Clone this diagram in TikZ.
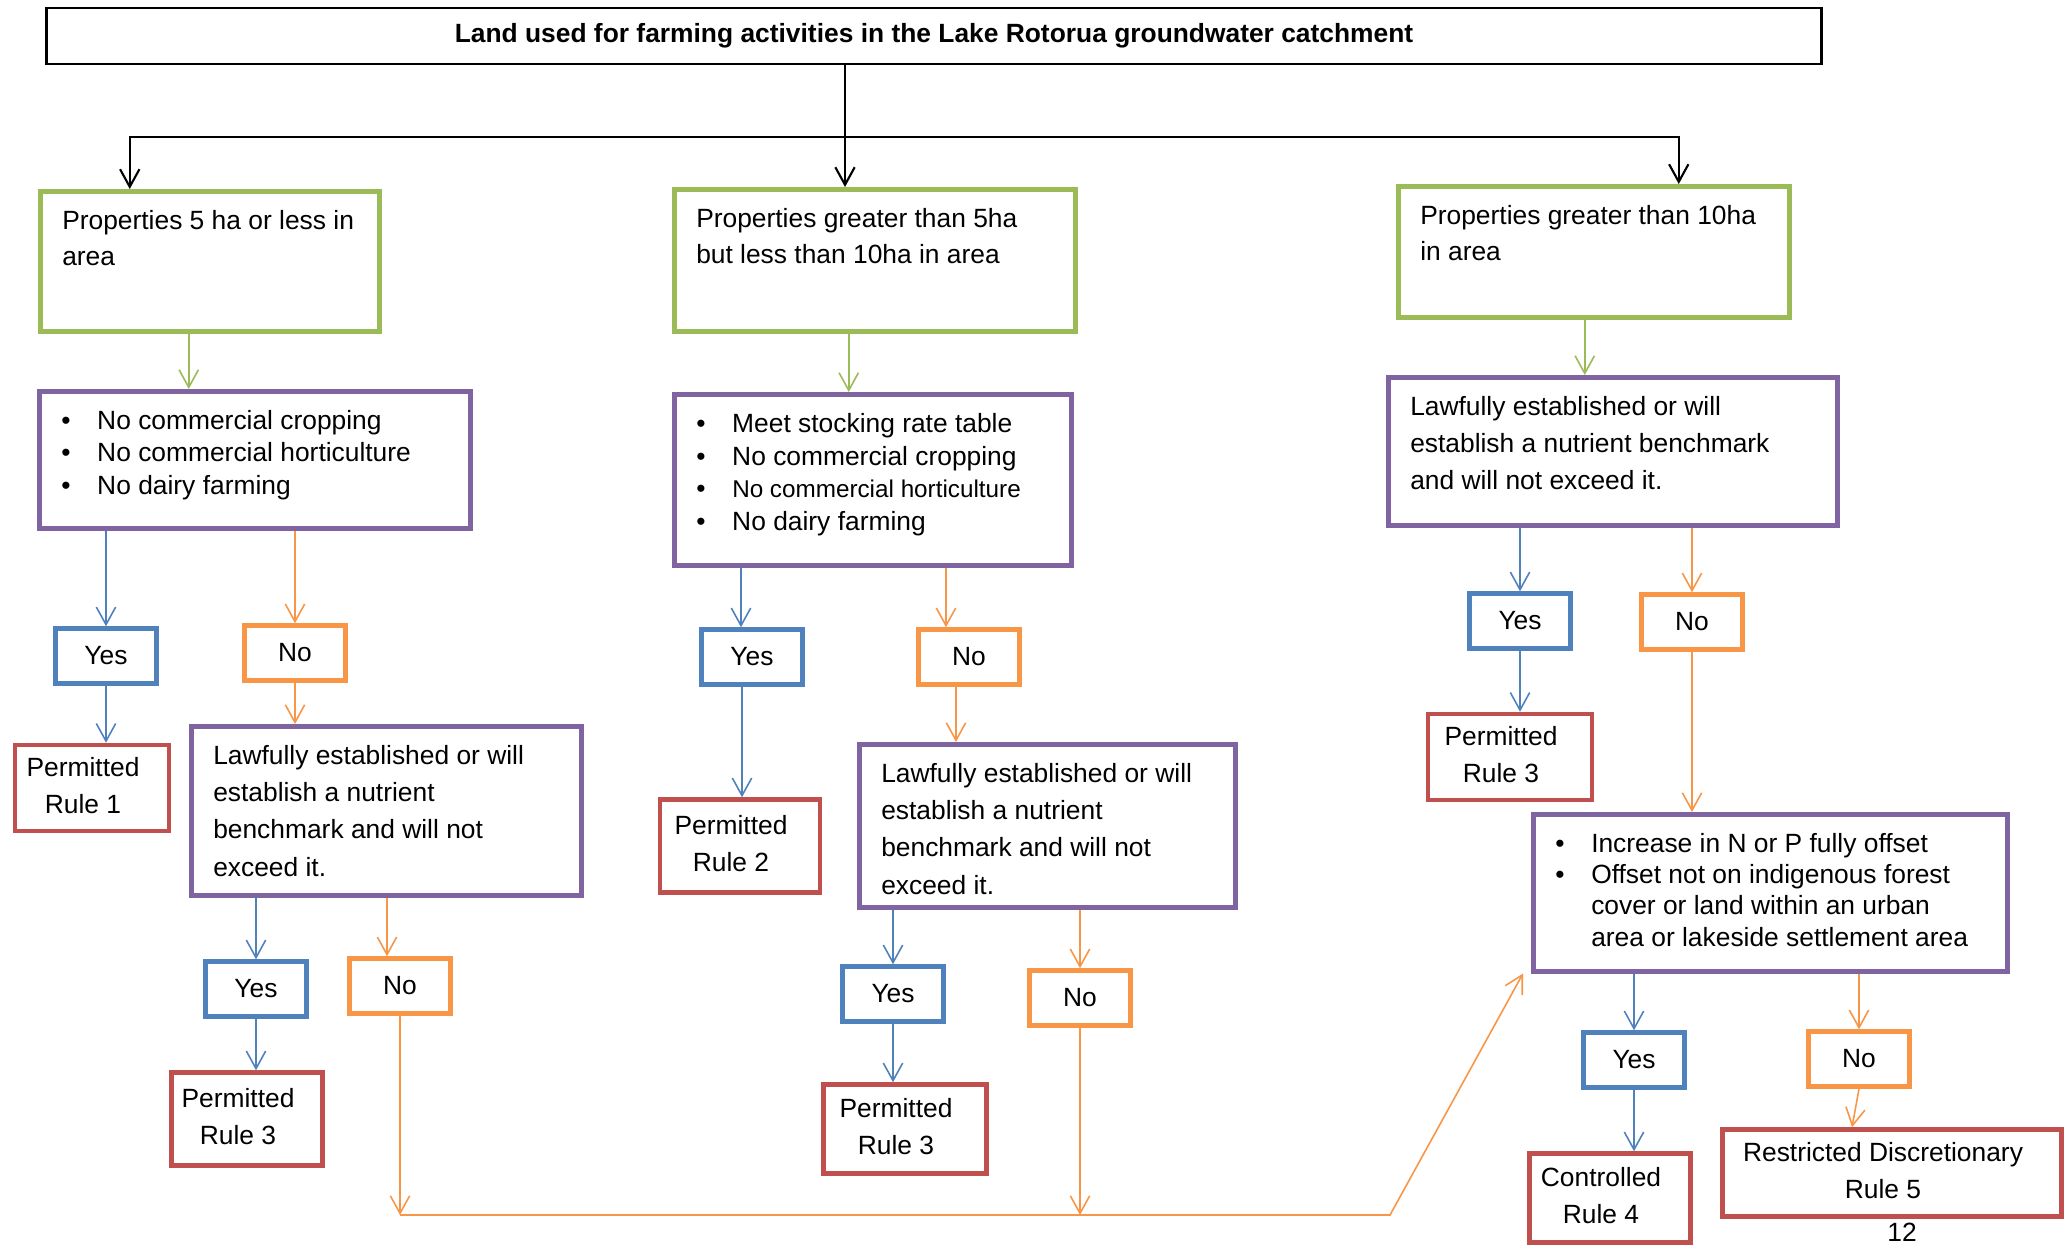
\documentclass[tikz,border=0pt]{standalone}
\usepackage{fontspec}
\setmainfont{Liberation Sans}
\usetikzlibrary{arrows.meta}

\definecolor{boxgreen}{HTML}{9BBB59}
\definecolor{boxpurple}{HTML}{8064A2}
\definecolor{boxblue}{HTML}{4F81BD}
\definecolor{boxorange}{HTML}{F79646}
\definecolor{boxred}{HTML}{C0504D}

% one pixel of the original chart
\newlength\px
\setlength\px{0.01cm}
\newcommand\inbox[3]{\parbox[t][#2\px][t]{#1\px}{\vspace*{19\px}\leftskip=22\px\rightskip=0pt plus 1fil\relax#3}}
\newcommand\bitem{\makebox[36\px][l]{\textbullet}}
\newcommand\rulelines[2]{\begin{tabular}{@{}c@{}}#1\\#2\end{tabular}\hspace*{18\px}}

\begin{document}
\begin{tikzpicture}[
    x=0.01cm, y=-0.01cm,
    every node/.style={font=\fontsize{7.5}{10.5}\selectfont},
    tbox/.style={draw, line width=4.5\px, anchor=north west, inner sep=0pt, xshift=-3\px, yshift=3\px, font=\fontsize{7.5}{#1}\selectfont},
    areabox/.style={tbox=10.24pt, draw=boxgreen},
    condbox/.style={tbox=#1, draw=boxpurple},
    titlebox/.style={draw, line width=2.5\px, minimum width=1775\px, minimum height=56\px, inner sep=0pt, font=\fontsize{7.5}{10.5}\selectfont\bfseries},
    answer/.style={draw=#1, line width=4.5\px, minimum width=101\px, minimum height=55\px, inner sep=0pt},
    yesbox/.style={answer=boxblue},
    nobox/.style={answer=boxorange},
    rulebox/.style 2 args={draw=boxred, line width=4.5\px, inner sep=0pt, minimum width=#1\px, minimum height=#2\px},
    conn/.style={line width=0.45pt, -{Straight Barb[length=5pt,width=5.5pt]}},
    karrow/.style={conn, line width=0.6pt},
    garrow/.style={conn, boxgreen},
    barrow/.style={conn, boxblue},
    oarrow/.style={conn, boxorange}
  ]
  \useasboundingbox (0,0) rectangle (2067,1248);

  \node[titlebox] (title) at (934,36) {Land used for farming activities in the Lake Rotorua groundwater catchment};

  % property sizes
  \node[areabox] (g1) at (41,192) {\inbox{339}{140}{Properties 5 ha or less in\\area}};
  \node[areabox] (g2) at (675,190) {\inbox{401}{142}{Properties greater than 5ha\\but less than 10ha in area}};
  \node[areabox] (g3) at (1399,187) {\inbox{391}{131}{Properties greater than 10ha\\in area}};

  % conditions
  \node[condbox=9.25pt] (p1) at (40,392) {\inbox{431}{137}{\bitem No commercial cropping\\\bitem No commercial horticulture\\\bitem No dairy farming}};
  \node[condbox=9.3pt] (p2) at (675,395) {\inbox{397}{171}{\bitem Meet stocking rate table\\\bitem No commercial cropping\\\bitem{\fontsize{6.9}{9.3}\selectfont No commercial horticulture}\\\bitem No dairy farming}};
  \node[condbox=10.6pt] (p3) at (1389,378) {\inbox{449}{148}{Lawfully established or will\\establish a nutrient benchmark\\and will not exceed it.}};
  \node[condbox=10.6pt] (law1) at (192,727) {\inbox{390}{169}{Lawfully established or will\\establish a nutrient\\benchmark and will not\\exceed it.}};
  \node[condbox=10.6pt] (law2) at (860,745) {\inbox{376}{163}{Lawfully established or will\\establish a nutrient\\benchmark and will not\\exceed it.}};
  \node[condbox=8.9pt] (off) at (1534,815) {\inbox{474}{157}{\bitem Increase in N or P fully offset\\\bitem Offset not on indigenous forest\\\hspace*{36\px}cover or land within an urban\\\hspace*{36\px}area or lakeside settlement area}};

  % answers and rules
  \node[yesbox] (yes1) at (106,656) {Yes};
  \node[nobox] (no1) at (295,653) {No};
  \node[rulebox={154}{86}] (perm1) at (92,788) {\rulelines{Permitted}{Rule 1}};
  \node[yesbox] (yes2) at (256,989) {Yes};
  \node[nobox] (no2) at (400,986) {No};
  \node[rulebox={151}{93}] (perm3a) at (247,1119) {\rulelines{Permitted}{Rule 3}};
  \node[yesbox] (yes3) at (752,657) {Yes};
  \node[nobox] (no3) at (969,657) {No};
  \node[rulebox={160}{93}] (perm2) at (740,846) {\rulelines{Permitted}{Rule 2}};
  \node[yesbox] (yes4) at (893,994) {Yes};
  \node[nobox] (no4) at (1080,998) {No};
  \node[rulebox={163}{89}] (perm3b) at (905,1129) {\rulelines{Permitted}{Rule 3}};
  \node[yesbox] (yes5) at (1520,621) {Yes};
  \node[nobox] (no5) at (1692,622) {No};
  \node[rulebox={164}{86}] (perm3c) at (1510,757) {\rulelines{Permitted}{Rule 3}};
  \node[yesbox] (yes6) at (1634,1060) {Yes};
  \node[nobox] (no6) at (1859,1059) {No};
  \node[rulebox={161}{89}] (ctrl) at (1610,1198) {\rulelines{Controlled}{Rule 4}};
  \node[rulebox={339}{87}] (restr) at (1892,1173) {\rulelines{Restricted Discretionary}{Rule 5}};
  \node (page) at (1902,1232) {12};

  \coordinate (split) at (845,137);
  \coordinate (bend) at (1390,1215);

  % from the title
  \draw[line width=0.6pt] (title.south -| split) -- (split);
  \draw[karrow] (split) -| ([xshift=-80\px]g1.north);
  \draw[karrow] (split) -- (split |- g2.north);
  \draw[karrow] (split) -| ([xshift=85\px]g3.north);

  \draw[garrow] ([xshift=-21\px]g1.south) -- ([xshift=-21\px]g1.south |- p1.north);
  \draw[garrow] ([xshift=-26\px]g2.south) -- ([xshift=-26\px]g2.south |- p2.north);
  \draw[garrow] ([xshift=-9\px]g3.south) -- ([xshift=-9\px]g3.south |- p3.north);

  % left column
  \draw[barrow] (p1.south -| yes1) -- (yes1);
  \draw[oarrow] (p1.south -| no1) -- (no1);
  \draw[barrow] (yes1) -- (yes1 |- perm1.north);
  \draw[oarrow] (no1) -- (no1 |- law1.north);
  \draw[barrow] (law1.south -| yes2) -- (yes2);
  \draw[oarrow] ([xshift=-13\px]no2.north |- law1.south) -- ([xshift=-13\px]no2.north);
  \draw[barrow] (yes2) -- (yes2 |- perm3a.north);
  \draw[oarrow] (no2) -- (no2 |- bend);

  % middle column
  \draw[barrow] ([xshift=-11\px]yes3.north |- p2.south) -- ([xshift=-11\px]yes3.north);
  \draw[oarrow] ([xshift=-23\px]no3.north |- p2.south) -- ([xshift=-23\px]no3.north);
  \draw[barrow] ([xshift=-10\px]yes3.south) -- ([xshift=-10\px]yes3.south |- perm2.north);
  \draw[oarrow] ([xshift=-13\px]no3.south) -- ([xshift=-13\px]no3.south |- law2.north);
  \draw[barrow] (law2.south -| yes4) -- (yes4);
  \draw[oarrow] (law2.south -| no4) -- (no4);
  \draw[barrow] (yes4) -- (yes4 |- perm3b.north);
  \draw[oarrow] (no4) -- (no4 |- bend);

  % right column
  \draw[barrow] (p3.south -| yes5) -- (yes5);
  \draw[oarrow] (p3.south -| no5) -- (no5);
  \draw[barrow] (yes5) -- (yes5 |- perm3c.north);
  \draw[oarrow] (no5) -- (no5 |- off.north);
  \draw[barrow] (off.south -| yes6) -- (yes6);
  \draw[oarrow] (off.south -| no6) -- (no6);
  \draw[barrow] (yes6) -- (yes6 |- ctrl.north);
  \draw[oarrow] (no6.south) -- ([xshift=-40\px]restr.north);

  % both "No" branches lead to the offset test
  \draw[oarrow] (no2 |- bend) -- (bend) -- ([xshift=-8\px]off.south west);

\end{tikzpicture}
\end{document}
